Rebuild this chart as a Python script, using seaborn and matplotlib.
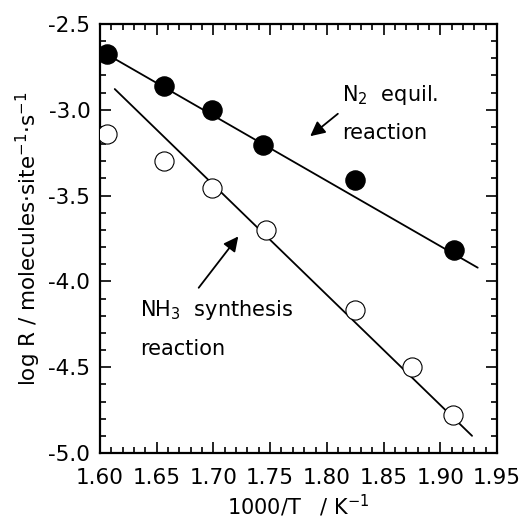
import matplotlib
matplotlib.use("Agg")
import matplotlib.pyplot as plt
import seaborn as sns
import pandas as pd
from matplotlib.ticker import MultipleLocator

# Data
n2_x = [1.606, 1.656, 1.699, 1.744, 1.825, 1.912]
n2_y = [-2.675, -2.861, -3.001, -3.205, -3.409, -3.817]
nh3_x = [1.606, 1.656, 1.699, 1.746, 1.825, 1.875, 1.911]
nh3_y = [-3.141, -3.298, -3.456, -3.700, -4.167, -4.499, -4.779]
# fitted straight lines (end points)
n2_fit_x = [1.603, 1.933]
n2_fit_y = [-2.665, -3.920]
nh3_fit_x = [1.613, 1.928]
nh3_fit_y = [-2.879, -4.900]

x_ticks = [1.60, 1.65, 1.70, 1.75, 1.80, 1.85, 1.90, 1.95]
y_ticks = [-2.5, -3.0, -3.5, -4.0, -4.5, -5.0]

sns.set_theme(style="ticks")
plt.rcParams['font.family'] = ['DejaVu Sans']
plt.rcParams['text.color'] = 'black'
plt.rcParams['axes.labelcolor'] = 'black'
plt.rcParams['xtick.color'] = 'black'
plt.rcParams['ytick.color'] = 'black'

fig = plt.figure(figsize=(5.22, 5.21), dpi=100)
ax = fig.add_axes([100/522, 1-453/521, 397/522, 429/521])

sns.lineplot(x=n2_fit_x, y=n2_fit_y, ax=ax, color='black', lw=1.3)
sns.lineplot(x=nh3_fit_x, y=nh3_fit_y, ax=ax, color='black', lw=1.3)
sns.scatterplot(x=n2_x, y=n2_y, ax=ax, s=190, color='black', edgecolor='black', linewidth=1, zorder=3)
sns.scatterplot(x=nh3_x, y=nh3_y, ax=ax, s=190, facecolor='white', edgecolor='black', linewidth=0.8, zorder=3)

ax.set_xlim(1.60, 1.95)
ax.set_ylim(-5.0, -2.5)
ax.set_xticks(x_ticks)
ax.set_xticklabels([f"{v:.2f}" for v in x_ticks])
ax.set_yticks(y_ticks)
ax.set_yticklabels([f"{v:.1f}" for v in y_ticks])
ax.xaxis.set_minor_locator(MultipleLocator(0.01))
ax.yaxis.set_minor_locator(MultipleLocator(0.1))
ax.tick_params(which='both', direction='in', top=True, right=True, width=1.2,
               colors='black', labelcolor='black', labelsize=15.5)
ax.tick_params(which='major', length=8)
ax.tick_params(which='minor', length=4)
ax.tick_params(axis='x', which='major', pad=11)
ax.tick_params(axis='y', which='major', pad=7)
for sp in ax.spines.values():
    sp.set_visible(True)
    sp.set_linewidth(1.6)
    sp.set_color('black')

ax.set_xlabel("1000/T   / K$^{-1}$", fontsize=15, labelpad=3, color='black')
ax.set_ylabel("log R / molecules·site$^{-1}$·s$^{-1}$", fontsize=15.5, labelpad=4, color='black')

ax.text(1.8135, -2.95, "N$_2$  equil.", fontsize=15, ha='left', va='baseline', color='black')
ax.text(1.8135, -3.17, "reaction", fontsize=15, ha='left', va='baseline', color='black')
ax.annotate("", xy=(1.7834, -3.164), xytext=(1.8116, -3.013),
            arrowprops=dict(arrowstyle='-|>', color='black', lw=1.3, mutation_scale=22))

ax.text(1.6353, -4.20, "NH$_3$  synthesis", fontsize=15, ha='left', va='baseline', color='black')
ax.text(1.6353, -4.43, "reaction", fontsize=15, ha='left', va='baseline', color='black')
ax.annotate("", xy=(1.7234, -3.725), xytext=(1.6855, -4.05),
            arrowprops=dict(arrowstyle='-|>', color='black', lw=1.3, mutation_scale=22))

fig.savefig("out.png", dpi=100)
